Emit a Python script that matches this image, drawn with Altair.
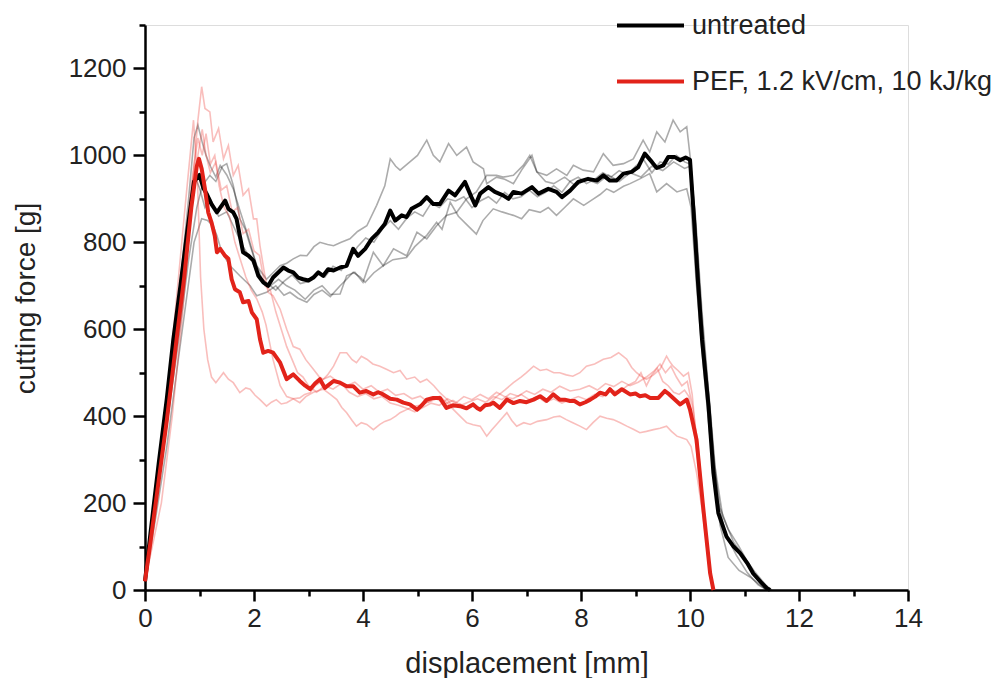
import altair as alt
import pandas as pd

FONT = "Liberation Sans"

# ---- data: (displacement mm, cutting force g) ----
untreated_mean = [(0,20),(0.1,130),(0.25,290),(0.4,440),(0.52,577),(0.65,700),(0.78,830),(0.9,940),(1.0,955),(1.07,925),(1.13,912),(1.22,888),(1.32,869),(1.41,885),(1.47,896),(1.53,877),(1.62,869),(1.68,854),(1.74,815),(1.80,777),(1.90,769),(1.99,758),(2.08,723),(2.17,708),(2.26,700),(2.35,719),(2.45,731),(2.54,742),(2.63,735),(2.72,731),(2.81,719),(2.90,715),(3.00,712),(3.09,719),(3.18,731),(3.27,723),(3.36,738),(3.46,735),(3.58,742),(3.70,746),(3.82,785),(3.91,769),(4.04,785),(4.16,808),(4.28,823),(4.40,842),(4.50,873),(4.59,850),(4.71,862),(4.80,858),(4.89,877),(5.05,888),(5.17,904),(5.29,888),(5.41,888),(5.57,919),(5.69,908),(5.87,939),(5.99,904),(6.06,885),(6.15,912),(6.30,927),(6.42,916),(6.57,908),(6.67,900),(6.76,916),(6.91,912),(7.10,927),(7.22,912),(7.40,923),(7.55,916),(7.65,904),(7.80,919),(7.95,939),(8.13,946),(8.29,942),(8.41,954),(8.53,942),(8.65,942),(8.78,958),(8.93,962),(9.05,973),(9.17,1004),(9.30,985),(9.39,971),(9.51,977),(9.60,996),(9.72,996),(9.82,989),(9.92,995),(10.0,990),(10.06,880),(10.14,720),(10.22,577),(10.34,423),(10.43,269),(10.52,177),(10.67,123),(10.80,100),(10.92,85),(11.05,62),(11.16,38),(11.30,18),(11.41,4),(11.47,0)]

pef_mean = [(0,20),(0.1,110),(0.25,250),(0.4,390),(0.58,577),(0.72,720),(0.85,880),(0.95,975),(0.99,992),(1.04,969),(1.10,923),(1.16,869),(1.22,846),(1.28,815),(1.32,777),(1.38,785),(1.47,769),(1.53,762),(1.59,715),(1.65,692),(1.74,685),(1.80,662),(1.90,665),(1.96,639),(2.05,623),(2.11,577),(2.17,546),(2.26,550),(2.35,546),(2.48,523),(2.60,485),(2.72,496),(2.84,481),(2.94,470),(3.03,462),(3.12,475),(3.21,485),(3.30,465),(3.46,481),(3.58,477),(3.70,469),(3.82,469),(3.94,454),(4.06,458),(4.19,450),(4.28,455),(4.37,450),(4.50,440),(4.62,438),(4.74,431),(4.86,427),(4.99,415),(5.08,425),(5.17,438),(5.29,442),(5.41,442),(5.53,419),(5.65,425),(5.78,423),(5.90,418),(6.02,427),(6.09,419),(6.15,415),(6.24,425),(6.33,427),(6.39,431),(6.51,419),(6.64,438),(6.76,430),(6.88,435),(7.00,432),(7.13,438),(7.25,446),(7.37,435),(7.49,450),(7.61,438),(7.70,438),(7.80,435),(7.88,435),(7.98,427),(8.08,432),(8.17,438),(8.26,445),(8.35,454),(8.45,450),(8.53,462),(8.62,450),(8.75,462),(8.90,450),(9.00,452),(9.08,446),(9.18,448),(9.27,442),(9.42,442),(9.54,458),(9.62,450),(9.69,442),(9.82,427),(9.94,438),(10.0,415),(10.12,346),(10.24,192),(10.37,38),(10.43,0)]

untreated_rep1 = [(0,20),(0.2,230),(0.4,430),(0.6,650),(0.8,900),(0.9,1040),(0.97,1070),(1.05,1030),(1.12,1000),(1.2,975),(1.3,950),(1.38,977),(1.5,955),(1.62,923),(1.75,870),(1.87,823),(2.05,746),(2.23,715),(2.35,730),(2.48,746),(2.6,752),(2.72,762),(2.85,770),(2.97,769),(3.1,790),(3.21,800),(3.35,795),(3.46,792),(3.6,800),(3.76,808),(3.9,825),(4.07,838),(4.25,885),(4.4,930),(4.5,992),(4.6,975),(4.68,966),(4.86,985),(5.0,1000),(5.17,1035),(5.29,1000),(5.41,985),(5.57,1027),(5.72,1000),(5.9,1019),(6.02,985),(6.21,969),(6.27,935),(6.45,950),(6.6,945),(6.76,935),(6.91,966),(7.10,1000),(7.19,962),(7.37,954),(7.55,969),(7.74,954),(7.86,977),(8.04,966),(8.23,962),(8.41,1004),(8.59,977),(8.78,981),(8.96,992),(9.14,1035),(9.26,1008),(9.39,1054),(9.54,1031),(9.69,1081),(9.82,1054),(9.94,1066),(10.0,1000),(10.1,850),(10.22,620),(10.34,450),(10.45,290),(10.6,170),(10.8,110),(11.0,75),(11.2,40),(11.4,10),(11.5,0)]

untreated_rep2 = [(0,20),(0.2,200),(0.4,380),(0.6,560),(0.8,760),(0.95,880),(1.05,930),(1.19,954),(1.3,940),(1.42,975),(1.5,981),(1.62,931),(1.74,854),(1.84,830),(1.93,792),(2.05,746),(2.17,708),(2.3,700),(2.45,715),(2.6,700),(2.75,690),(2.94,669),(3.1,690),(3.25,700),(3.4,680),(3.58,681),(3.7,723),(3.85,731),(4.0,708),(4.1,745),(4.19,777),(4.37,746),(4.56,785),(4.8,769),(4.99,823),(5.17,808),(5.35,838),(5.53,862),(5.72,869),(5.9,900),(6.08,916),(6.27,954),(6.45,954),(6.57,950),(6.76,954),(6.94,977),(7.06,1000),(7.19,962),(7.35,940),(7.5,935),(7.7,950),(7.9,930),(8.1,945),(8.3,935),(8.5,955),(8.7,940),(8.9,960),(9.1,950),(9.3,975),(9.5,965),(9.7,985),(9.9,970),(10.0,975),(10.1,840),(10.22,600),(10.34,430),(10.45,280),(10.55,190),(10.7,140),(10.9,100),(11.1,55),(11.3,15),(11.45,0)]

untreated_rep3 = [(0,20),(0.2,170),(0.4,330),(0.6,520),(0.75,660),(0.9,800),(1.04,854),(1.15,850),(1.25,838),(1.32,815),(1.41,777),(1.56,746),(1.74,723),(1.93,700),(2.05,677),(2.23,685),(2.4,700),(2.55,678),(2.66,685),(2.8,672),(2.97,662),(3.1,680),(3.25,690),(3.4,675),(3.58,700),(3.7,715),(3.82,731),(3.95,720),(4.04,708),(4.2,730),(4.37,746),(4.55,760),(4.8,765),(4.95,790),(5.17,816),(5.35,846),(5.45,830),(5.6,892),(5.75,860),(5.95,835),(6.08,819),(6.2,850),(6.39,877),(6.55,870),(6.76,862),(6.91,854),(7.05,875),(7.25,869),(7.4,880),(7.55,862),(7.7,880),(7.86,900),(8.05,885),(8.23,900),(8.35,910),(8.47,923),(8.6,915),(8.78,929),(8.9,935),(9.08,946),(9.26,958),(9.39,916),(9.57,935),(9.76,916),(9.94,923),(10.02,880),(10.12,700),(10.24,520),(10.36,360),(10.5,210),(10.65,130),(10.85,80),(11.05,40),(11.25,12),(11.42,0)]

untreated_rep4 = [(0,20),(0.2,210),(0.4,400),(0.6,600),(0.8,820),(0.92,950),(1.0,925),(1.1,880),(1.2,900),(1.35,860),(1.5,870),(1.65,830),(1.8,790),(1.95,760),(2.1,720),(2.25,705),(2.4,690),(2.55,710),(2.7,725),(2.85,705),(3.0,710),(3.15,730),(3.3,720),(3.45,745),(3.6,735),(3.75,760),(3.9,790),(4.05,810),(4.2,800),(4.35,830),(4.5,850),(4.65,830),(4.8,855),(4.95,870),(5.1,860),(5.25,890),(5.4,880),(5.55,900),(5.7,895),(5.85,905),(6.0,880),(6.15,895),(6.3,905),(6.45,890),(6.6,915),(6.75,900),(6.9,905),(7.05,920),(7.2,905),(7.35,915),(7.5,930),(7.65,915),(7.8,940),(7.95,950),(8.1,935),(8.25,945),(8.4,960),(8.55,950),(8.7,965),(8.85,955),(9.0,975),(9.15,990),(9.3,960),(9.45,985),(9.6,980),(9.75,1000),(9.9,985),(10.0,980),(10.1,860),(10.22,640),(10.34,460),(10.45,300),(10.55,150),(10.7,75),(10.9,45),(11.1,30),(11.3,10),(11.4,0)]

pef_rep1 = [(0,20),(0.3,200),(0.5,400),(0.7,650),(0.85,900),(0.97,1080),(1.04,1158),(1.10,1108),(1.19,1100),(1.25,1031),(1.35,1062),(1.44,992),(1.53,1023),(1.62,954),(1.71,977),(1.80,908),(1.90,923),(1.99,854),(2.05,854),(2.11,792),(2.20,723),(2.26,685),(2.35,677),(2.48,646),(2.60,600),(2.72,560),(2.84,554),(2.95,530),(3.09,508),(3.20,490),(3.27,485),(3.40,492),(3.55,478),(3.7,470),(3.85,478),(4.0,462),(4.15,470),(4.3,455),(4.45,462),(4.6,448),(4.75,452),(4.9,440),(5.05,446),(5.2,432),(5.35,440),(5.5,428),(5.65,436),(5.8,425),(5.95,433),(6.1,440),(6.25,432),(6.4,445),(6.55,438),(6.7,452),(6.85,446),(7.0,458),(7.15,450),(7.3,462),(7.45,455),(7.61,469),(7.8,458),(7.98,462),(8.15,470),(8.3,460),(8.45,475),(8.6,468),(8.75,480),(8.9,470),(9.05,478),(9.2,490),(9.35,505),(9.45,520),(9.55,500),(9.65,515),(9.75,490),(9.85,470),(9.95,480),(10.05,420),(10.15,330),(10.25,190),(10.35,60),(10.42,0)]

pef_rep2 = [(0,20),(0.15,150),(0.3,320),(0.45,500),(0.6,700),(0.75,900),(0.89,1081),(0.96,950),(1.02,720),(1.08,600),(1.15,530),(1.22,490),(1.30,477),(1.44,500),(1.53,485),(1.62,477),(1.74,454),(1.85,465),(1.93,462),(2.02,448),(2.11,438),(2.23,423),(2.32,432),(2.41,438),(2.5,428),(2.60,431),(2.72,440),(2.84,442),(2.93,450),(3.03,454),(3.12,470),(3.21,477),(3.35,495),(3.46,515),(3.58,546),(3.70,546),(3.80,530),(3.88,523),(3.97,538),(4.07,531),(4.18,520),(4.31,515),(4.43,508),(4.56,500),(4.68,505),(4.80,485),(4.95,490),(5.05,478),(5.17,485),(5.3,470),(5.41,454),(5.53,440),(5.66,420),(5.78,428),(5.9,420),(6.02,430),(6.15,418),(6.3,428),(6.45,445),(6.6,460),(6.76,477),(6.9,490),(7.0,500),(7.13,515),(7.25,505),(7.37,508),(7.5,500),(7.61,500),(7.73,495),(7.85,492),(7.98,500),(8.10,515),(8.25,520),(8.41,531),(8.55,535),(8.69,546),(8.77,538),(8.84,531),(8.93,512),(9.02,500),(9.10,492),(9.20,485),(9.33,495),(9.45,508),(9.57,538),(9.63,525),(9.69,515),(9.78,505),(9.88,492),(9.97,500),(10.04,450),(10.12,340),(10.24,190),(10.36,40),(10.43,0)]

pef_rep3 = [(0,20),(0.15,170),(0.3,330),(0.45,480),(0.6,640),(0.75,820),(0.88,960),(0.97,1040),(1.05,1000),(1.12,1050),(1.20,980),(1.28,1000),(1.36,930),(1.45,880),(1.55,860),(1.65,800),(1.75,760),(1.85,720),(1.95,690),(2.05,670),(2.15,640),(2.22,610),(2.35,530),(2.48,470),(2.6,445),(2.72,440),(2.84,431),(2.95,445),(3.09,455),(3.27,462),(3.4,450),(3.52,438),(3.61,420),(3.70,408),(3.8,390),(3.88,377),(3.97,385),(4.07,381),(4.19,369),(4.31,381),(4.4,388),(4.50,392),(4.6,400),(4.68,408),(4.8,415),(4.93,423),(5.05,425),(5.17,431),(5.3,440),(5.41,446),(5.53,432),(5.66,415),(5.78,400),(5.90,385),(6.02,380),(6.15,377),(6.27,354),(6.36,368),(6.45,381),(6.55,395),(6.64,408),(6.73,390),(6.82,377),(6.95,385),(7.07,381),(7.2,388),(7.37,392),(7.5,398),(7.61,400),(7.73,392),(7.85,385),(7.98,377),(8.10,369),(8.22,385),(8.35,400),(8.47,395),(8.59,392),(8.72,385),(8.84,377),(8.96,370),(9.08,362),(9.2,365),(9.33,369),(9.45,372),(9.57,377),(9.66,365),(9.76,354),(9.86,350),(9.94,346),(10.02,330),(10.12,270),(10.24,170),(10.36,40),(10.42,0)]

pef_rep4 = [(0,20),(0.15,160),(0.3,310),(0.45,470),(0.6,620),(0.75,800),(0.87,940),(0.97,1000),(1.05,1060),(1.12,1000),(1.2,960),(1.3,985),(1.4,920),(1.5,930),(1.6,870),(1.7,880),(1.8,820),(1.9,830),(2.0,780),(2.1,770),(2.2,700),(2.3,690),(2.4,640),(2.5,600),(2.6,560),(2.7,530),(2.8,500),(2.9,490),(3.0,470),(3.15,455),(3.3,470),(3.45,462),(3.6,475),(3.75,455),(3.9,445),(4.05,452),(4.2,440),(4.35,445),(4.5,430),(4.65,425),(4.8,418),(4.95,410),(5.1,420),(5.25,430),(5.4,425),(5.55,440),(5.7,430),(5.85,445),(6.0,438),(6.15,450),(6.3,440),(6.45,455),(6.6,445),(6.75,440),(6.9,450),(7.05,438),(7.2,445),(7.35,432),(7.5,440),(7.65,430),(7.8,438),(7.95,445),(8.1,438),(8.25,450),(8.4,445),(8.55,460),(8.7,455),(8.85,470),(9.0,480),(9.1,500),(9.2,470),(9.3,495),(9.4,510),(9.5,480),(9.6,470),(9.7,455),(9.8,450),(9.9,460),(9.98,445),(10.06,380),(10.15,290),(10.25,170),(10.36,40),(10.42,0)]

series_names = ["untreated", "PEF, 1.2 kV/cm, 10 kJ/kg"]
series_colors = ["#000000", "#e2231a"]
x_major = [0, 2, 4, 6, 8, 10, 12, 14]
x_minor = [1, 3, 5, 7, 9, 11, 13]
y_major = [0, 200, 400, 600, 800, 1000, 1200]
y_minor = [100, 300, 500, 700, 900, 1100, 1300]


def to_df(pairs, group, rep=0):
    return pd.DataFrame({
        "x": [p[0] for p in pairs],
        "y": [p[1] for p in pairs],
        "i": list(range(len(pairs))),
        "group": group,
        "rep": rep,
    })


gray_df = pd.concat([to_df(r, series_names[0], k) for k, r in
                     enumerate([untreated_rep1, untreated_rep2, untreated_rep3, untreated_rep4])])
pink_df = pd.concat([to_df(r, series_names[1], k) for k, r in
                     enumerate([pef_rep1, pef_rep2, pef_rep3, pef_rep4])])
black_df = to_df(untreated_mean, series_names[0])
red_df = to_df(pef_mean, series_names[1])

xscale = alt.Scale(domain=[0, 14], nice=False, zero=False)
yscale = alt.Scale(domain=[0, 1300], nice=False, zero=False)

x_axis = alt.Axis(
    orient="bottom", values=x_major, format="d", title="displacement [mm]",
    labelFontSize=26, titleFontSize=29, labelFont=FONT, titleFont=FONT,
    tickSize=11, tickWidth=2.5, domainWidth=2.5, domainColor="#000", tickColor="#000",
    labelColor="#222", titleColor="#222", labelFlush=False, labelOverlap=False,
    labelPadding=4, titleFontWeight="normal", grid=False,
    titleY=82, titleBaseline="alphabetic",
)
y_axis = alt.Axis(
    orient="left", values=y_major, format="d", title="cutting force [g]",
    labelFontSize=26, titleFontSize=28, labelFont=FONT, titleFont=FONT,
    tickSize=12, tickWidth=2.5, domainWidth=2.5, domainColor="#000", tickColor="#000",
    labelColor="#222", titleColor="#222", labelFlush=False, labelOverlap=False,
    labelPadding=7, titleFontWeight="normal", grid=False,
    titleX=-111, titleY=273, titleBaseline="alphabetic", titleAngle=270,
)
x_minor_axis = alt.Axis(orient="bottom", values=x_minor, labels=False, domain=False,
                        title=None, grid=False, tickSize=6, tickWidth=2.5, tickColor="#000")
y_minor_axis = alt.Axis(orient="left", values=y_minor, labels=False, domain=False,
                        title=None, grid=False, tickSize=6, tickWidth=2.5, tickColor="#000")

cscale = alt.Scale(domain=series_names, range=series_colors)
legend = alt.Legend(
    title=None, orient="none", legendX=470, legendY=-35, symbolType="stroke",
    symbolSize=4489, symbolStrokeWidth=4, labelFontSize=27, labelFont=FONT,
    labelColor="#222", labelOffset=6, rowPadding=7, padding=0, labelLimit=500,
)

gray_layer = alt.Chart(gray_df).mark_line(color="#000000", opacity=0.33, strokeWidth=1.6).encode(
    x=alt.X("x:Q", scale=xscale, axis=None),
    y=alt.Y("y:Q", scale=yscale, axis=None),
    detail="rep:N", order="i:Q",
)
pink_layer = alt.Chart(pink_df).mark_line(color="#ee3b33", opacity=0.33, strokeWidth=1.6).encode(
    x=alt.X("x:Q", scale=xscale, axis=None),
    y=alt.Y("y:Q", scale=yscale, axis=None),
    detail="rep:N", order="i:Q",
)
black_layer = alt.Chart(black_df).mark_line(strokeWidth=4, strokeJoin="round").encode(
    x=alt.X("x:Q", scale=xscale, axis=x_axis),
    y=alt.Y("y:Q", scale=yscale, axis=y_axis),
    color=alt.Color("group:N", scale=cscale, legend=legend),
    order="i:Q",
)
red_layer = alt.Chart(red_df).mark_line(strokeWidth=4, strokeJoin="round").encode(
    x=alt.X("x:Q", scale=xscale, axis=None),
    y=alt.Y("y:Q", scale=yscale, axis=None),
    color=alt.Color("group:N", scale=cscale, legend=legend),
    order="i:Q",
)
minor_layer = alt.Chart(pd.DataFrame({"x": [0], "y": [0]})).mark_point(opacity=0).encode(
    x=alt.X("x:Q", scale=xscale, axis=x_minor_axis),
    y=alt.Y("y:Q", scale=yscale, axis=y_minor_axis),
)

chart = alt.layer(gray_layer, pink_layer, black_layer, red_layer, minor_layer).resolve_axis(
    x="independent", y="independent"
).properties(
    width=763, height=565, autosize="none",
    padding={"left": 137, "top": 17, "right": 84, "bottom": 88},
).configure_view(stroke=None).configure(background="white")

chart.save("out.html", embed_options={"renderer": "svg", "actions": False})
